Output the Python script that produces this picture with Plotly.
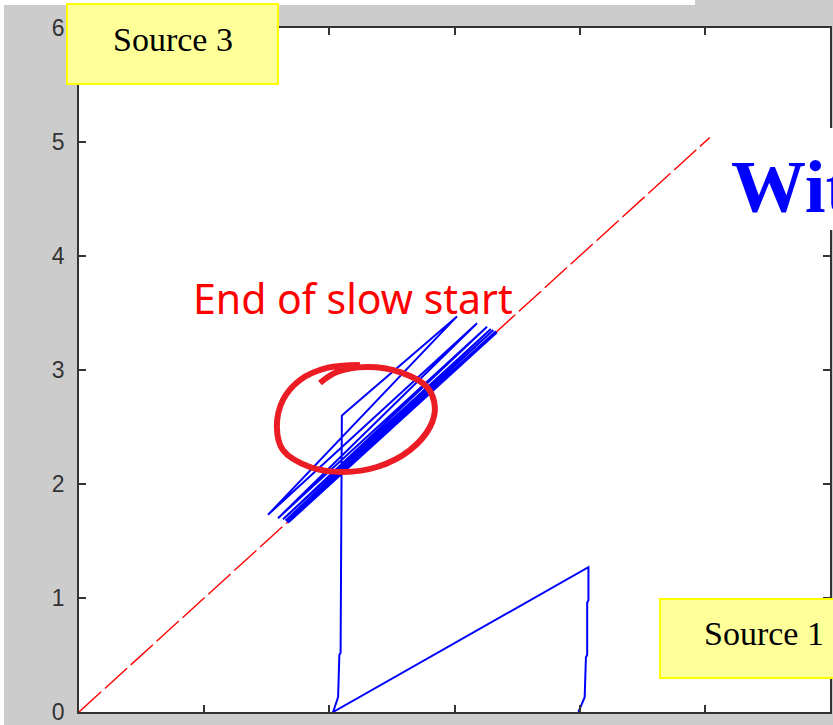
import plotly.graph_objects as go

# ---- data -------------------------------------------------------------
# fair-share line (source 1 rate == source 3 rate)
fair_x = [0.0, 5.04]
fair_y = [0.0, 5.04]

# trajectory of the two sources (x: source 1, y: source 3)
traj_x = [3.99, 4.04, 4.05, 4.06, 4.06, 4.07, 4.07,
          2.03, 2.07, 2.08, 2.09, 2.10, 2.13,
          3.02, 1.51, 3.18, 1.59, 3.26, 1.63, 3.29, 1.65,
          3.31, 1.66, 3.33, 1.67, 3.34]
traj_y = [0.00, 0.13, 0.48, 0.50, 0.96, 0.98, 1.27,
          0.00, 0.13, 0.50, 0.52, 2.60, 2.63,
          3.47, 1.73, 3.41, 1.70, 3.38, 1.69, 3.36, 1.68,
          3.35, 1.67, 3.34, 1.66, 3.33]

# hand-drawn loop marking the end of slow start
loop_x = [1.925, 2.061, 2.300, 2.564, 2.780, 2.843, 2.804, 2.644, 2.380,
          2.109, 1.845, 1.629, 1.581, 1.629, 1.765, 1.981, 2.244]
loop_y = [2.886, 2.982, 3.026, 2.982, 2.851, 2.675, 2.500, 2.298, 2.149,
          2.105, 2.149, 2.298, 2.500, 2.737, 2.912, 3.018, 3.044]

tick_vals = [0, 1, 2, 3, 4, 5, 6]

# ---- layout geometry (pixels) -----------------------------------------
FIG_W, FIG_H = 833, 725
L, R, T, B = 79, 830, 28, 712


def px_x(px):
    return (px - L) / (R - L)


def px_y(py):
    return (B - py) / (B - T)


fig = go.Figure()

fig.add_trace(go.Scatter(
    x=fair_x, y=fair_y, mode="lines",
    line=dict(color="#ff0000", width=1.4, dash="30px,5px"),
    hoverinfo="skip", showlegend=False))

fig.add_trace(go.Scatter(
    x=traj_x, y=traj_y, mode="lines",
    line=dict(color="#0000ff", width=2),
    hoverinfo="skip", showlegend=False))

fig.add_trace(go.Scatter(
    x=loop_x, y=loop_y, mode="lines",
    line=dict(color="#ec1c24", width=6, shape="spline", smoothing=1.0),
    hoverinfo="skip", showlegend=False))

axis_common = dict(
    range=[0, 6], tickvals=tick_vals, ticks="inside", ticklen=7,
    tickcolor="#333333", tickwidth=1.5,
    showline=True, linecolor="#333333", linewidth=1.5, mirror="ticks",
    showgrid=False, zeroline=False, fixedrange=True, automargin=False,
    tickfont=dict(family="Liberation Sans", size=23, color="#333333"),
    ticklabelstandoff=8, ticklabeloverflow="allow",
)

fig.update_layout(
    width=FIG_W, height=FIG_H,
    margin=dict(l=L, r=FIG_W - R, t=T, b=FIG_H - B, pad=0),
    paper_bgcolor="#cccccc", plot_bgcolor="#ffffff",
    xaxis=axis_common, yaxis=axis_common,
    showlegend=False,
)


def rect(x0, y0, x1, y1, fill, line_color=None, line_width=0, layer="above"):
    fig.add_shape(
        type="rect", xref="paper", yref="paper",
        x0=px_x(x0), x1=px_x(x1), y0=px_y(y1), y1=px_y(y0),
        fillcolor=fill,
        line=dict(color=line_color or fill, width=line_width),
        layer=layer)


# slide background showing around the figure window
rect(0, 0, 4, FIG_H, "#ffffff", layer="below")
rect(0, 0, 695, 5, "#ffffff", layer="below")

# label boxes
rect(67, 4, 278, 84, "#ffff99", "#ffff00", 2)
rect(660, 599, 845, 678, "#ffff99", "#ffff00", 2)
rect(712, 128, 845, 230, "#ffffff")

fig.add_annotation(
    xref="paper", yref="paper", x=px_x(172.5), y=px_y(39),
    xanchor="center", yanchor="middle", showarrow=False,
    text="Source 3",
    font=dict(family="Liberation Serif", size=34, color="#000000"))

fig.add_annotation(
    xref="paper", yref="paper", x=px_x(763.5), y=px_y(633),
    xanchor="center", yanchor="middle", showarrow=False,
    text="Source 1",
    font=dict(family="Liberation Serif", size=34, color="#000000"))

fig.add_annotation(
    xref="paper", yref="paper", x=px_x(729), y=px_y(186),
    xanchor="left", yanchor="middle", showarrow=False,
    text="<b>With</b>",
    font=dict(family="Liberation Serif", size=75, color="#0000ff"))

fig.add_annotation(
    xref="paper", yref="paper", x=px_x(353), y=px_y(298),
    xanchor="center", yanchor="middle", showarrow=False,
    text="End of slow start",
    font=dict(family="Noto Sans", size=41, color="#ff0000"))

fig.write_html("out.html")
